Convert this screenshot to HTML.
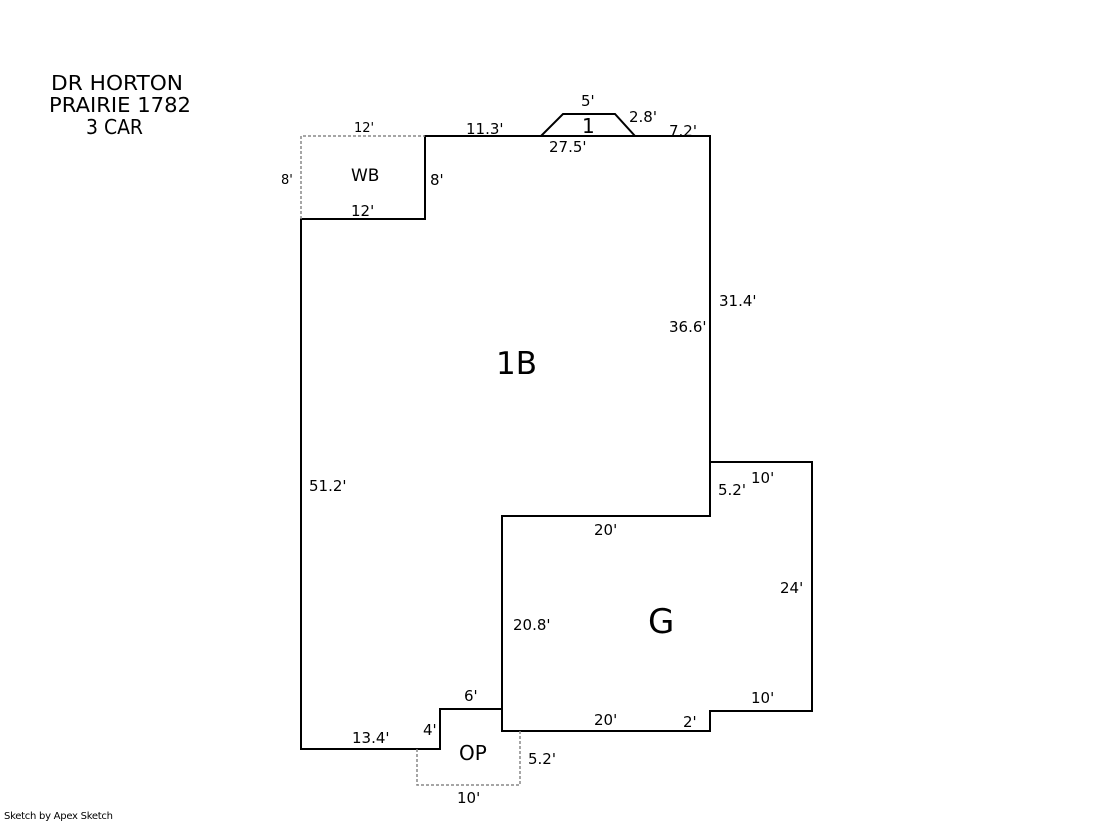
<!DOCTYPE html>
<html><head><style>
body{margin:0;background:#fff;}
svg text{font-family:"DejaVu Sans",Verdana,sans-serif;fill:#000;}
</style></head><body>
<svg width="1119" height="821" viewBox="0 0 1119 821" xmlns="http://www.w3.org/2000/svg">
<g fill="none" stroke="#000" stroke-width="2">
<path d="M301,219 L425,219 L425,136 L710,136 L710,516 L502,516 L502,709 L440,709 L440,749 L301,749 Z"/>
<path d="M710,516 L710,462 L812,462 L812,711 L710,711 L710,731 L502,731 L502,516"/>
<path d="M541,136 L563,114 L615,114 L635,136"/>
</g>
<g fill="none" stroke="#888" stroke-width="1.5" stroke-dasharray="3,2">
<path d="M301,219 L301,136 L425,136"/>
<path d="M417,749 L417,785 L520,785 L520,731"/>
</g>
<g font-size="20">
<text x="51" y="90" textLength="132" lengthAdjust="spacingAndGlyphs">DR HORTON</text>
<text x="49" y="112" textLength="142" lengthAdjust="spacingAndGlyphs">PRAIRIE 1782</text>
<text x="86" y="134" textLength="57" lengthAdjust="spacingAndGlyphs">3 CAR</text>
</g>
<g font-size="15">
<text x="581" y="106">5'</text>
<text x="629" y="122">2.8'</text>
<text x="669" y="136">7.2'</text>
<text x="466" y="134">11.3'</text>
<text x="549" y="152">27.5'</text>
<text x="430" y="185">8'</text>
<text x="351" y="216">12'</text>
<text x="719" y="306">31.4'</text>
<text x="669" y="332">36.6'</text>
<text x="309" y="491">51.2'</text>
<text x="751" y="483">10'</text>
<text x="718" y="495">5.2'</text>
<text x="594" y="535">20'</text>
<text x="780" y="593">24'</text>
<text x="513" y="630">20.8'</text>
<text x="464" y="701">6'</text>
<text x="751" y="703">10'</text>
<text x="594" y="725">20'</text>
<text x="683" y="727">2'</text>
<text x="423" y="735">4'</text>
<text x="352" y="743">13.4'</text>
<text x="528" y="764">5.2'</text>
<text x="457" y="803">10'</text>
</g>
<g font-size="13">
<text x="354" y="132">12'</text>
<text x="281" y="184">8'</text>
</g>
<text x="351" y="181" font-size="17">WB</text>
<text x="582" y="133" font-size="20">1</text>
<text x="496" y="374" font-size="31">1B</text>
<text x="648" y="633" font-size="34">G</text>
<text x="459" y="760" font-size="20">OP</text>
<text x="4" y="819" font-size="10" textLength="109">Sketch by Apex Sketch</text>
</svg>
</body></html>
